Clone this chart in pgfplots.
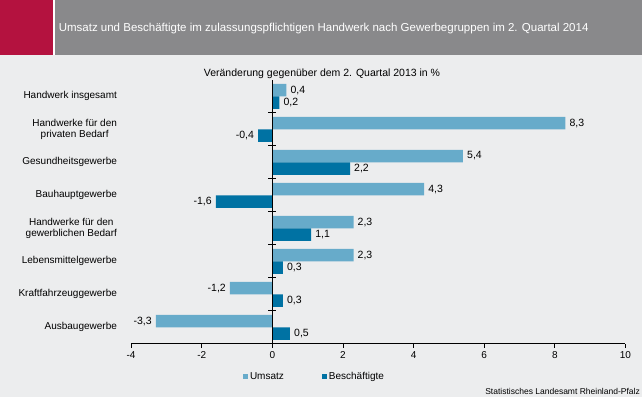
\documentclass[border=0pt]{standalone}
\usepackage{pgfplots}
\pgfplotsset{compat=1.18}
\usepackage{fontspec}
\setmainfont{Liberation Sans}
\definecolor{bg}{HTML}{ECEDEE}
\definecolor{hgray}{HTML}{89898B}
\definecolor{hred}{HTML}{B4123F}
\definecolor{lblue}{HTML}{67ABCA}
\definecolor{dblue}{HTML}{0072A3}
\begin{document}
\begin{tikzpicture}
\fill[bg] (0pt,0pt) rectangle (642pt,-397pt);
\fill[white] (52pt,0pt) rectangle (56pt,-54.5pt);
\fill[hred] (0pt,0pt) rectangle (52.6pt,-54.5pt);
\fill[hgray] (54.8pt,0pt) rectangle (642pt,-54.5pt);
\node[anchor=west, text=white, font=\fontsize{11.5}{13}\selectfont, inner sep=0pt] at (58.6pt,-28.5pt) {Umsatz und Beschäftigte im zulassungspflichtigen Handwerk nach Gewerbegruppen im 2. Quartal 2014};
\node[font=\fontsize{10.5}{12}\selectfont, inner sep=0pt] at (322pt,-74pt) {Veränderung gegenüber dem 2. Quartal 2013 in \%};
\node[anchor=east, font=\fontsize{8.5}{10}\selectfont, inner sep=0pt] at (640pt,-391.5pt) {Statistisches Landesamt Rheinland-Pfalz};
\begin{axis}[
  at={(131.1pt,-343.8pt)}, anchor=south west,
  scale only axis, width=494.3pt, height=264pt,
  xmin=-4, xmax=10, ymin=-0.5, ymax=7.5,
  xbar, bar width=0.38,
  axis x line*=bottom, axis y line*=left,
  y axis line style={draw=none},
  x axis line style={black, line width=1pt},
  xtick={-4,-2,...,10}, ytick={0,...,7},
  yticklabels={Ausbaugewerbe, Kraftfahrzeuggewerbe, Lebensmittelgewerbe, {Handwerke für den\\gewerblichen Bedarf}, Bauhauptgewerbe, Gesundheitsgewerbe, {Handwerke für den\\privaten Bedarf}, Handwerk insgesamt},
  y tick style={draw=none},
  x tick style={black, line width=0.8pt},
  tick align=outside, major tick length=4pt,
  tick label style={font=\fontsize{10}{11.7}\selectfont},
  yticklabel style={align=center, inner sep=0pt, xshift=-10pt},
  /pgf/number format/assume math mode=true,
  point meta=x,
  nodes near coords={\pgfmathprintnumber[fixed,fixed zerofill,precision=1,use comma,assume math mode=true]{\pgfplotspointmeta}},
  nodes near coords style={font=\fontsize{10.5}{12}\selectfont, text=black, inner sep=4pt},
  legend style={at={(axis description cs:0.371,-0.1246)}, anchor=center, draw=none, fill=none, legend columns=2, font=\fontsize{10}{12}\selectfont, /tikz/every even column/.append style={column sep=36pt}, inner sep=0pt},
  legend image code/.code={\fill[#1] (0pt,-2.5pt) rectangle (5pt,2.5pt);},
  clip=false,
]
\addplot[fill=lblue, draw=none, bar shift=0.19] coordinates {
(-3.3,0) (-1.2,1) (2.3,2) (2.3,3) (4.3,4) (5.4,5) (8.3,6) (0.4,7)};
\addlegendentry{Umsatz}
\addplot[fill=dblue, draw=none, bar shift=-0.19] coordinates {
(0.5,0) (0.3,1) (0.3,2) (1.1,3) (-1.6,4) (2.2,5) (-0.4,6) (0.2,7)};
\addlegendentry{Beschäftigte}
\draw[black, line width=1.4pt] (axis cs:0,-0.5) -- (axis cs:0,7.5);
\draw[black, line width=0.8pt] (axis cs:-0.11,0.5) -- (axis cs:0.11,0.5);
\draw[black, line width=0.8pt] (axis cs:-0.11,1.5) -- (axis cs:0.11,1.5);
\draw[black, line width=0.8pt] (axis cs:-0.11,2.5) -- (axis cs:0.11,2.5);
\draw[black, line width=0.8pt] (axis cs:-0.11,3.5) -- (axis cs:0.11,3.5);
\draw[black, line width=0.8pt] (axis cs:-0.11,4.5) -- (axis cs:0.11,4.5);
\draw[black, line width=0.8pt] (axis cs:-0.11,5.5) -- (axis cs:0.11,5.5);
\draw[black, line width=0.8pt] (axis cs:-0.11,6.5) -- (axis cs:0.11,6.5);
\end{axis}
\end{tikzpicture}
\end{document}
